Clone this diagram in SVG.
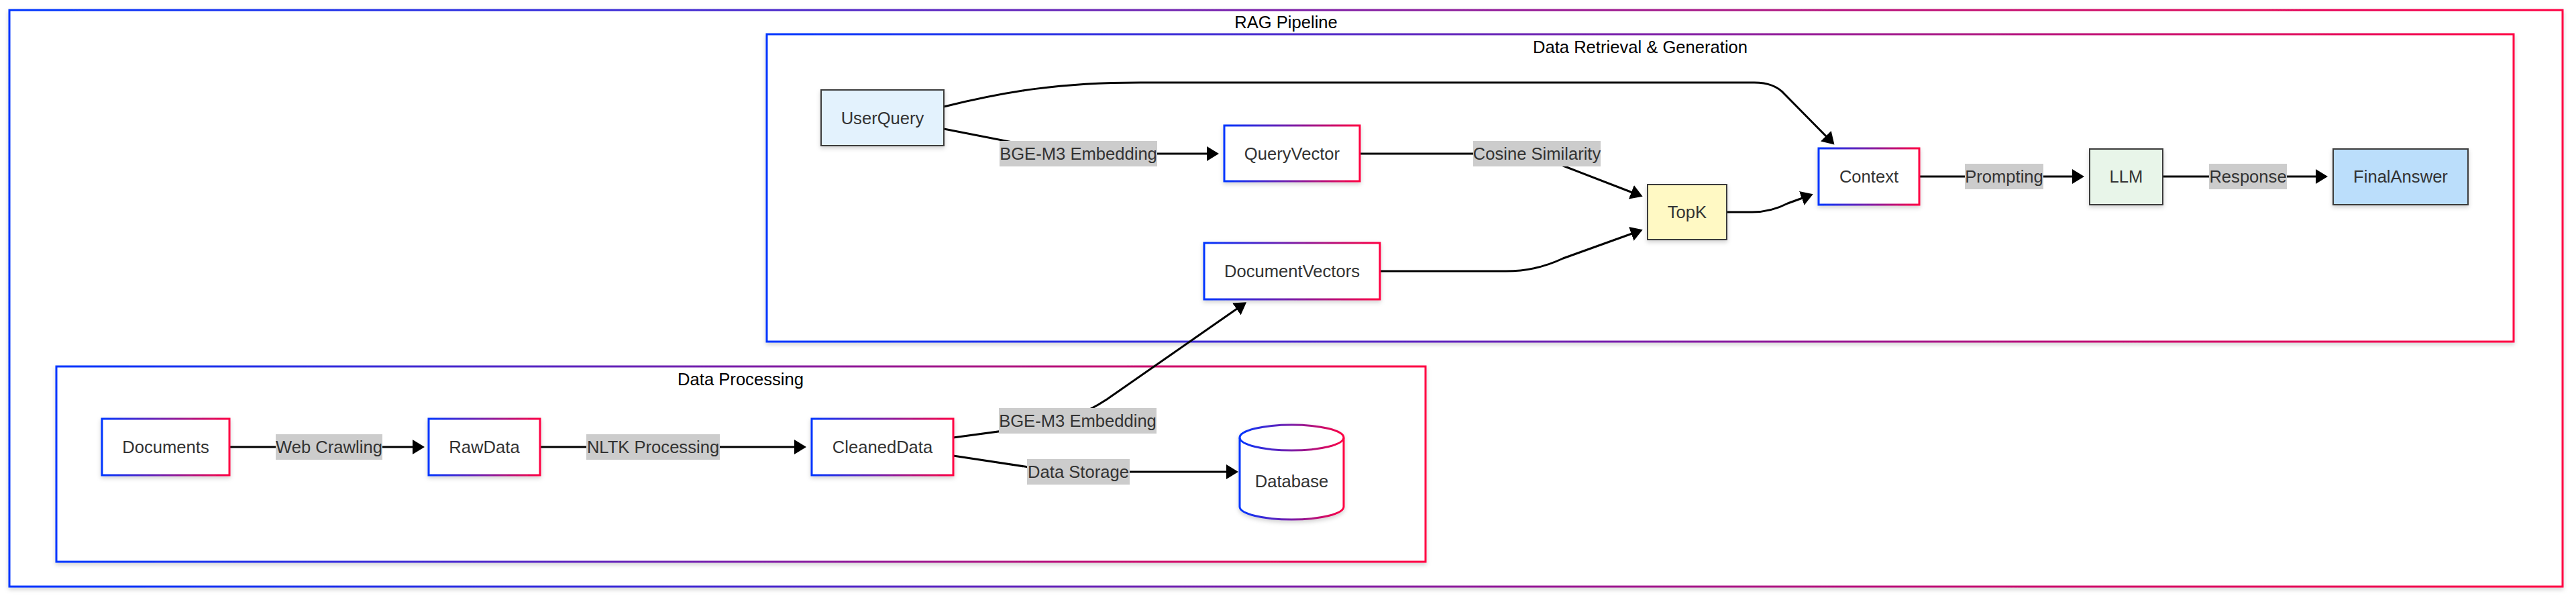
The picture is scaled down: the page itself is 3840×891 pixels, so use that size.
<svg xmlns="http://www.w3.org/2000/svg" width="3840" height="891" viewBox="0 0 3840 891">
<defs>
  <linearGradient id="grad" x1="0" y1="0" x2="1" y2="0">
    <stop offset="0" stop-color="#0035ff"/>
    <stop offset="0.5" stop-color="#7a1ea8"/>
    <stop offset="1" stop-color="#ff0042"/>
  </linearGradient>
  <filter id="shadow" x="-10%" y="-10%" width="120%" height="130%">
    <feDropShadow dx="0" dy="3" stdDeviation="3" flood-color="#000" flood-opacity="0.18"/>
  </filter>
  <marker id="arrow" markerUnits="userSpaceOnUse" viewBox="0 0 18 22" markerWidth="18" markerHeight="22" refX="13" refY="11" orient="auto">
    <path d="M0,0 L18,11 L0,22 z" fill="#000"/>
  </marker>
  <style>
    .cluster { fill: #fff; stroke: url(#grad); stroke-width: 3; filter: url(#shadow); }
    .ctitle { font-family: "Liberation Sans", Arial, sans-serif; font-size: 25.6px; fill: #000; text-anchor: middle; dominant-baseline: central; }
    .gnode { fill: #fff; stroke: url(#grad); stroke-width: 3; filter: url(#shadow); }
    .pnode { stroke: #3a3a3a; stroke-width: 2; filter: url(#shadow); }
    .ntext { font-family: "Liberation Sans", Arial, sans-serif; font-size: 25.6px; fill: #333; text-anchor: middle; dominant-baseline: central; }
    .edge { fill: none; stroke: #000; stroke-width: 3; marker-end: url(#arrow); }
    .lbg { fill: #cccccc; }
    .ltext { font-family: "Liberation Sans", Arial, sans-serif; font-size: 25.6px; fill: #333; text-anchor: middle; dominant-baseline: central; }
  </style>
</defs>

<g id="cluster-rag">
  <rect class="cluster" x="14" y="15" width="3806" height="859"/>
  <text class="ctitle" x="1917" y="33">RAG Pipeline</text>
</g>
<g id="cluster-retrieval">
  <rect class="cluster" x="1143" y="51" width="2604" height="458"/>
  <text class="ctitle" x="2445" y="70">Data Retrieval &amp; Generation</text>
</g>
<g id="cluster-processing">
  <rect class="cluster" x="84" y="546" width="2041" height="291"/>
  <text class="ctitle" x="1104" y="565">Data Processing</text>
</g>

<g id="edges">
  <path class="edge" d="M342,666 L628,666"/>
  <path class="edge" d="M805,666 L1197,666"/>
  <path class="edge" d="M1421,652 L1540,636 Q1600,628 1650,595 L1854,453"/>
  <path class="edge" d="M1421,679 L1540,697 Q1580,703 1620,703 L1841,703"/>
  <path class="edge" d="M1407,192 L1560,222 Q1590,229 1620,229 L1812,229"/>
  <path class="edge" d="M2027,229 L2230,229 Q2290,229 2330,247 L2444,291"/>
  <path class="edge" d="M2057,404 L2245,404 Q2290,404 2330,385 L2444,344"/>
  <path class="edge" d="M1407,159 C1500,136 1580,123 1700,123 L2615,123 Q2645,123 2660,140 L2731,212"/>
  <path class="edge" d="M2574,316 L2612,316 Q2640,316 2665,303 L2698,291"/>
  <path class="edge" d="M2861,263 L3102,263"/>
  <path class="edge" d="M3224,263 L3465,263"/>
</g>

<g id="edge-labels">
  <g id="label-webcrawling"><rect class="lbg" x="411" y="647" width="159" height="38"/><text class="ltext" x="490.5" y="666">Web Crawling</text></g>
  <g id="label-nltk"><rect class="lbg" x="874" y="647" width="199" height="38"/><text class="ltext" x="973.5" y="666">NLTK Processing</text></g>
  <g id="label-bge-low"><rect class="lbg" x="1489" y="608" width="235" height="38"/><text class="ltext" x="1606.5" y="627">BGE-M3 Embedding</text></g>
  <g id="label-storage"><rect class="lbg" x="1531" y="684" width="153" height="38"/><text class="ltext" x="1607.5" y="703">Data Storage</text></g>
  <g id="label-bge-up"><rect class="lbg" x="1490" y="210" width="235" height="38"/><text class="ltext" x="1607.5" y="229">BGE-M3 Embedding</text></g>
  <g id="label-cosine"><rect class="lbg" x="2196" y="210" width="190" height="38"/><text class="ltext" x="2291" y="229">Cosine Similarity</text></g>
  <g id="label-prompting"><rect class="lbg" x="2929" y="244" width="117" height="38"/><text class="ltext" x="2987.5" y="263">Prompting</text></g>
  <g id="label-response"><rect class="lbg" x="3293" y="244" width="116" height="38"/><text class="ltext" x="3351" y="263">Response</text></g>
</g>

<g id="node-documents">
  <rect class="gnode" x="152" y="624" width="190" height="84"/>
  <text class="ntext" x="247" y="666">Documents</text>
</g>
<g id="node-rawdata">
  <rect class="gnode" x="639" y="624" width="166" height="84"/>
  <text class="ntext" x="722" y="666">RawData</text>
</g>
<g id="node-cleaneddata">
  <rect class="gnode" x="1210" y="624" width="211" height="84"/>
  <text class="ntext" x="1315.5" y="666">CleanedData</text>
</g>
<g id="node-database">
  <path class="gnode" d="M1848,652 A77,19 0 0 1 2003,652 L2003,755 A77,19 0 0 1 1848,755 Z"/>
  <path d="M1848,652 A77,19 0 0 0 2003,652" fill="none" stroke="url(#grad)" stroke-width="3"/>
  <text class="ntext" x="1925.5" y="717">Database</text>
</g>
<g id="node-userquery">
  <rect class="pnode" x="1224" y="134" width="183" height="83" fill="#e3f2fd"/>
  <text class="ntext" x="1315.5" y="175.5">UserQuery</text>
</g>
<g id="node-queryvector">
  <rect class="gnode" x="1825" y="187" width="202" height="83"/>
  <text class="ntext" x="1926" y="228.5">QueryVector</text>
</g>
<g id="node-documentvectors">
  <rect class="gnode" x="1795" y="362" width="262" height="84"/>
  <text class="ntext" x="1926" y="404">DocumentVectors</text>
</g>
<g id="node-topk">
  <rect class="pnode" x="2456" y="275" width="118" height="82" fill="#fff9c4"/>
  <text class="ntext" x="2515" y="316">TopK</text>
</g>
<g id="node-context">
  <rect class="gnode" x="2711" y="221" width="150" height="84"/>
  <text class="ntext" x="2786" y="263">Context</text>
</g>
<g id="node-llm">
  <rect class="pnode" x="3115" y="222" width="109" height="83" fill="#e8f5e9"/>
  <text class="ntext" x="3169.5" y="263">LLM</text>
</g>
<g id="node-finalanswer">
  <rect class="pnode" x="3478" y="222" width="201" height="83" fill="#bbdefb"/>
  <text class="ntext" x="3578.5" y="263">FinalAnswer</text>
</g>
</svg>
